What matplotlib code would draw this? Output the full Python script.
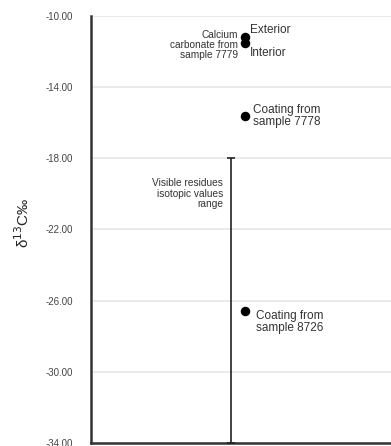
import matplotlib
matplotlib.use("Agg")
import matplotlib.pyplot as plt

plt.rcParams['font.family'] = ['Liberation Sans', 'DejaVu Sans']

# isotopic measurements (δ13C ‰)
point_labels = ["Exterior", "Interior", "Coating from sample 7778", "Coating from sample 8726"]
point_values = [-11.2, -11.5, -15.6, -26.6]
point_x = [0.513, 0.513, 0.513, 0.513]

# range of values for visible residues
range_x = 0.467
range_low = -34.0
range_high = -18.0

y_ticks = [-10, -14, -18, -22, -26, -30, -34]

fig = plt.figure(figsize=(3.91, 4.46), dpi=100)
ax = fig.add_axes([0.233, 0.007, 0.767, 0.957])

ax.set_xlim(0, 1)
ax.set_ylim(-34, -10)
ax.set_yticks(y_ticks)
ax.set_yticklabels([f"{v:.2f}" for v in y_ticks], fontsize=7, color="#444444")
ax.set_xticks([])
ax.tick_params(axis='y', length=0, pad=13)
ax.yaxis.grid(True, color="#e6e6e6", linewidth=1.2)
ax.set_axisbelow(True)
for side in ("top", "right"):
    ax.spines[side].set_visible(False)
for side in ("left", "bottom"):
    ax.spines[side].set_linewidth(1.8)
    ax.spines[side].set_color("#333333")

mid = (range_low + range_high) / 2
half = (range_high - range_low) / 2
ax.errorbar([range_x], [mid], yerr=[[half], [half]], fmt='none', ecolor="#222222",
            elinewidth=1.2, capsize=3, capthick=1.2, clip_on=False, zorder=3)

ax.scatter(point_x, point_values, s=34, color="black", zorder=4, clip_on=False)

ax.text(0.53, -10.8, "Exterior", fontsize=8.5, color="#333333", va="center", ha="left")
ax.text(0.53, -12.1, "Interior", fontsize=8.5, color="#333333", va="center", ha="left")
ax.text(0.49, -11.63, "Calcium\ncarbonate from\nsample 7779", fontsize=7.3, color="#333333",
        va="center", ha="right", linespacing=1.0)
ax.text(0.54, -15.6, "Coating from\nsample 7778", fontsize=8.5, color="#333333",
        va="center", ha="left", linespacing=1.0)
ax.text(0.44, -20.0, "Visible residues\nisotopic values\nrange", fontsize=7.3, color="#333333",
        va="center", ha="right", linespacing=1.05)
ax.text(0.55, -27.2, "Coating from\nsample 8726", fontsize=8.5, color="#333333",
        va="center", ha="left", linespacing=1.0)

fig.text(0.058, 0.5, "δ$^{13}$C‰", rotation=90, fontsize=11, color="#222222",
         va="center", ha="center")

fig.savefig("out.png", dpi=100)
